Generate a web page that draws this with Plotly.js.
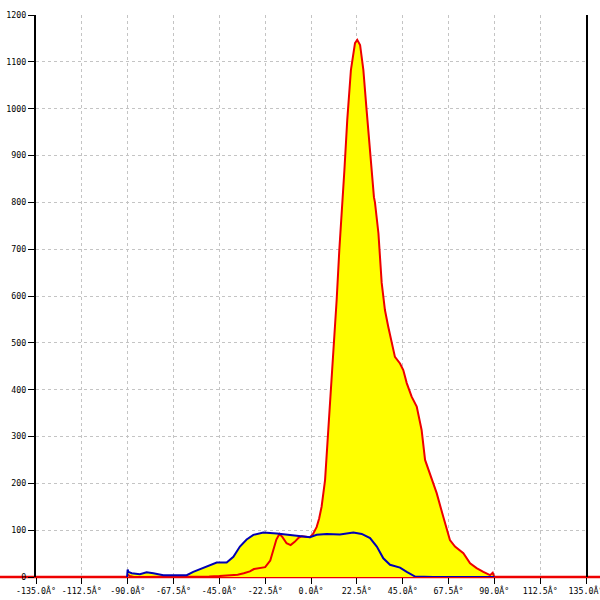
<!DOCTYPE html>
<html>
<head>
<meta charset="utf-8">
<script src="https://cdn.plot.ly/plotly-3.0.1.min.js"></script>
<style>html,body{margin:0;padding:0;background:#fff;}#chart{width:600px;height:600px;}</style>
</head>
<body>
<div id="chart"></div>
<script>
// Red series (angle in degrees, value)
var redX = [-90, -89, -87, -80, -70, -60, -50, -45, -40, -36, -33, -30, -28, -25, -22.5, -20, -18.5, -17, -15.5, -14, -12, -10, -8, -6, -4.5, -2, -0.5, 1, 2.8, 4, 5.2, 6.9, 8, 9, 10.2, 11, 12.6, 13.9, 15.2, 16.4, 17.8, 19.6, 21.6, 22.7, 24.1, 25.7, 27.3, 29, 30.9, 31.4, 33.1, 34.7, 36.3, 37.9, 39.6, 41.2, 43.7, 45.3, 47, 49.4, 51.9, 54.3, 56, 58.4, 61.7, 64.9, 68.2, 70.7, 74.8, 78.1, 81.3, 84.6, 87.9, 89.2, 90];
var redY = [5, 2, 0, 0, 0, 0, 1, 2, 3, 5, 8, 12, 17, 19, 21, 35, 58, 80, 92, 85, 72, 68, 75, 84, 87, 85, 85, 92, 107, 125, 150, 207, 278, 350, 421, 485, 592, 698, 780, 869, 976, 1083, 1140, 1147, 1136, 1083, 997, 905, 811, 800, 734, 628, 570, 535, 499, 470, 456, 442, 414, 385, 364, 314, 250, 221, 179, 129, 79, 65, 51, 29, 19, 11, 4, 9, 0];
// Blue series
var blueX = [-90.3, -90, -89.7, -88, -84, -80.7, -77.4, -72.5, -65, -61, -57.8, -52.9, -48.8, -46.3, -41.4, -38.1, -34.9, -31.6, -28.3, -23.4, -16.8, -10.3, -5.4, -0.5, 2.8, 7.7, 14.2, 20.8, 24.9, 29, 32.3, 35.5, 38.8, 43.7, 47, 51.1, 60, 70, 80, 90];
var blueY = [0, 16, 11, 8, 6, 10, 8, 4, 4, 4, 11, 19, 26, 31, 31, 43, 65, 80, 90, 95, 93, 90, 88, 85, 90, 92, 91, 95, 92, 83, 65, 40, 26, 20, 11, 1, 0, 0, 0, 0];
// Ticks
var xTickVals = [-135, -112.5, -90, -67.5, -45, -22.5, 0, 22.5, 45, 67.5, 90, 112.5, 135];
var xTickText = ["-135.0Â°", "-112.5Â°", "-90.0Â°", "-67.5Â°", "-45.0Â°", "-22.5Â°", "0.0Â°", "22.5Â°", "45.0Â°", "67.5Â°", "90.0Â°", "112.5Â°", "135.0Â°"];
var yTickVals = [0, 100, 200, 300, 400, 500, 600, 700, 800, 900, 1000, 1100, 1200];

var tickFont = {family: "DejaVu Sans Mono", size: 8.3, color: "#000"};

var traces = [
  {x: blueX, y: blueY, type: "scatter", mode: "lines", fill: "tozeroy", fillcolor: "#ffff00", line: {width: 0, color: "rgba(0,0,0,0)"}, hoverinfo: "skip", showlegend: false},
  {x: redX, y: redY, type: "scatter", mode: "lines", fill: "tozeroy", fillcolor: "#ffff00", line: {width: 0, color: "rgba(0,0,0,0)"}, hoverinfo: "skip", showlegend: false},
  {x: redX, y: redY, type: "scatter", mode: "lines", line: {color: "#ee0000", width: 2}, showlegend: false},
  {x: blueX, y: blueY, type: "scatter", mode: "lines", line: {color: "#0000b4", width: 2}, showlegend: false}
];

var layout = {
  width: 600, height: 600,
  margin: {l: 36, r: 14, t: 15, b: 23, pad: 0},
  paper_bgcolor: "#fff", plot_bgcolor: "rgba(0,0,0,0)",
  showlegend: false,
  xaxis: {
    range: [-135, 135], tickvals: xTickVals, ticktext: xTickText, tickfont: tickFont,
    ticklabeloverflow: "allow",
    ticks: "outside", ticklen: 6, tickcolor: "#000", tickwidth: 1,
    showgrid: true, gridcolor: "#c4c4c4", griddash: "dot", gridwidth: 1,
    showline: false, zeroline: false, fixedrange: true
  },
  yaxis: {
    range: [0, 1200], tickvals: yTickVals, tickfont: tickFont,
    ticklabeloverflow: "allow",
    ticks: "outside", ticklen: 6, tickcolor: "#000", tickwidth: 1,
    showgrid: true, gridcolor: "#c4c4c4", griddash: "dot", gridwidth: 1,
    showline: true, linecolor: "#000", linewidth: 2, mirror: true,
    zeroline: false, fixedrange: true
  },
  shapes: [
    {type: "line", xref: "paper", yref: "paper", x0: -0.08, x1: 1.05, y0: 0, y1: 0, line: {color: "#ee0000", width: 2.5}, layer: "below"}
  ]
};

Plotly.newPlot("chart", traces, layout, {staticPlot: true, displayModeBar: false});
</script>
</body>
</html>
